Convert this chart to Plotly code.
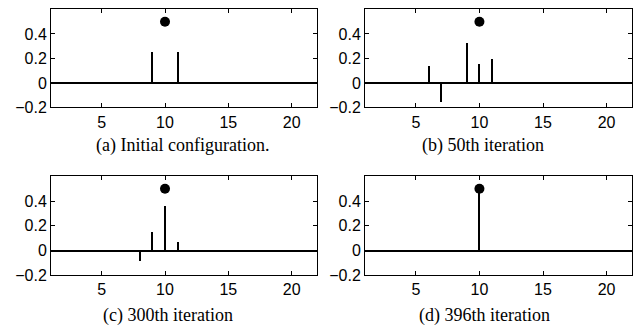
import plotly.graph_objects as go

# ---- data ----
x_a = [9, 11]
y_a = [0.25, 0.25]
x_b = [6, 7, 9, 10, 11]
y_b = [0.133, -0.157, 0.32, 0.154, 0.19]
x_c = [8, 9, 10, 11]
y_c = [-0.086, 0.144, 0.355, 0.07]
x_d = [10]
y_d = [0.5]
target_x = [10]
target_y = [0.5]
captions = ["(a) Initial configuration.", "(b) 50th iteration",
            "(c) 300th iteration", "(d) 396th iteration"]
yticks = [-0.2, 0, 0.2, 0.4]
xticks = [5, 10, 15, 20]

W, H = 643, 332
fig = go.Figure()

panels = [
    (x_a, y_a, (43, 309), (0.5, 101.5), 0.16),
    (x_b, y_b, (357, 624), (0.5, 101.5), 0.16),
    (x_c, y_c, (43, 309), (172.5, 274.5), 0.16),
    (x_d, y_d, (357, 624), (172.5, 274.5), 0.12),
]
cap_pos = [(174, 141), (475, 141), (160, 316), (476, 316)]

for i, (xs, ys, (x0, x1), (y0, y1), bw) in enumerate(panels):
    n = "" if i == 0 else str(i + 1)
    xa, ya = "x" + n, "y" + n
    fig.add_trace(go.Bar(x=xs, y=ys, width=bw, marker=dict(color="black", line=dict(width=0)),
                         xaxis=xa, yaxis=ya, showlegend=False))
    fig.add_trace(go.Scatter(x=target_x, y=target_y, mode="markers",
                             marker=dict(color="black", size=10),
                             xaxis=xa, yaxis=ya, showlegend=False))
    axcommon = dict(showline=True, linecolor="black", linewidth=1, mirror="ticks",
                    ticks="inside", ticklen=4, tickcolor="black", showgrid=False,
                    tickfont=dict(family="Liberation Sans", size=16, color="black"))
    fig.layout["xaxis" + n] = dict(domain=[x0 / W, x1 / W], range=[1, 22], tickvals=xticks,
                                   anchor=ya, zeroline=False, **axcommon)
    fig.layout["yaxis" + n] = dict(domain=[1 - y1 / H, 1 - y0 / H], range=[-0.2, 0.6],
                                   tickvals=yticks, anchor=xa, zeroline=True,
                                   zerolinecolor="black", zerolinewidth=1.5, **axcommon)
    cx, cy = cap_pos[i]
    fig.add_annotation(text=captions[i], x=cx / W, y=1 - cy / H, xref="paper", yref="paper",
                       showarrow=False, xanchor="center", yanchor="middle",
                       font=dict(family="Liberation Serif", size=18, color="black"))

fig.update_layout(width=W, height=H, margin=dict(l=0, r=0, t=0, b=0),
                  font=dict(family="Liberation Sans"),
                  plot_bgcolor="white", paper_bgcolor="white", bargap=0)
fig.write_html("out.html")
